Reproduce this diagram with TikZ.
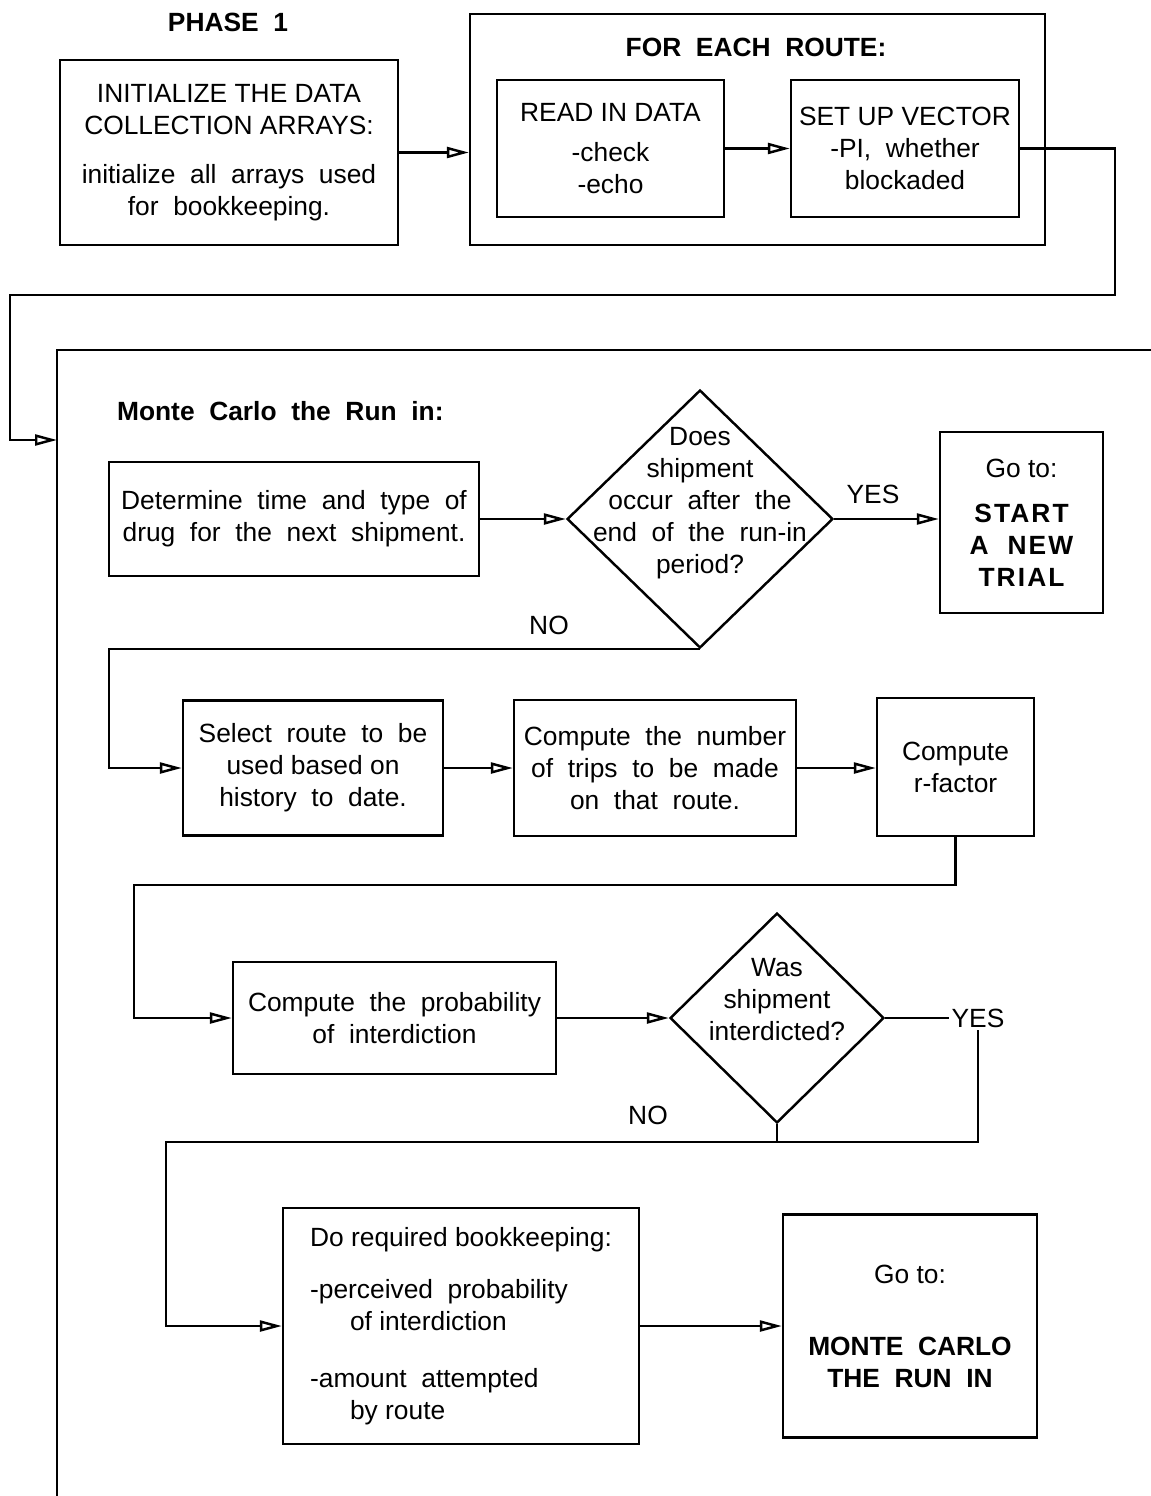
\documentclass[tikz,border=0pt]{standalone}
\usepackage{fontspec}
\setmainfont{Liberation Sans}
\usetikzlibrary{arrows.meta,shapes.geometric}

\begin{document}
\begin{tikzpicture}[x=0.02cm,y=-0.02cm,line width=1.4pt,
  >={Triangle[open,length=4.4mm,width=2.2mm]},
  every node/.style={font=\fontsize{15}{18.2}\selectfont},
  box/.style={draw,align=center,inner sep=0pt},
  dec/.style={draw,diamond,inner sep=0pt},
  hd/.style={font=\fontsize{15}{18.2}\selectfont\bfseries}]
  \useasboundingbox (0,0) rectangle (1151,1496);

  % phase 1
  \node[hd] (phase) at (228,22) {PHASE\ \ 1};
  \node[box,minimum width=6.76cm,minimum height=3.7cm] (init) at (229,152.5)
    {INITIALIZE THE DATA\\COLLECTION ARRAYS:\\[0.34cm]initialize\ \ all\ \ arrays\ \ used\\for\ \ bookkeeping.};

  \node[box,minimum width=11.5cm,minimum height=4.62cm] (route) at (757.5,129.5) {};
  \node[hd] (routetitle) at (756,47) {FOR\ \ EACH\ \ ROUTE:};
  \node[box,minimum width=4.54cm,minimum height=2.74cm] (readin) at (610.5,148.5)
    {READ IN DATA\\[0.16cm]-check\\-echo};
  \node[box,minimum width=4.56cm,minimum height=2.74cm] (setup) at (905,148.5)
    {SET UP VECTOR\\-PI,\ \ whether\\blockaded};

  \draw[->] (init.east) -- (init.east -| route.west);
  \draw[->] (readin) -- (setup);

  % link to the run in
  \coordinate (c1) at (1115,295);
  \coordinate (c2) at (10,295);
  \coordinate (entry) at (57,440);
  \draw[->] (setup.east) -| (c1) -- (c2) |- (entry);

  % frame of the run in
  \coordinate (frame) at (57,350);
  \draw (1151,350) -- (frame) -- (57,1496);
  \node[hd,anchor=west] (mctitle) at (110,411) {Monte\ \ Carlo\ \ the\ \ Run\ \ in:};

  \node[box,minimum width=7.4cm,minimum height=2.28cm] (determine) at (294,519)
    {Determine\ \ time\ \ and\ \ type\ \ of\\drug\ \ for\ \ the\ \ next\ \ shipment.};
  \node[dec,minimum width=5.32cm,minimum height=5.16cm] (dec1) at (700,519) {};
  \node[align=center] (dec1txt) at (700,503)
    {Does\\shipment\\occur\ \ after\ \ the\\end\ \ of\ \ the\ \ run-in\\period?};
  \node[box,minimum width=3.26cm,minimum height=3.62cm] (goto1) at (1021.5,522.5)
    {Go\ to:\\[0.26cm]\bfseries\addfontfeature{LetterSpace=8}START\\
     \bfseries\addfontfeature{LetterSpace=8}A\ \ NEW\\
     \bfseries\addfontfeature{LetterSpace=8}TRIAL};
  \node (yes1) at (873,494) {YES};
  \node (no1) at (549,625) {NO};

  \draw[->] (determine) -- (dec1);
  \draw[->] (dec1) -- (goto1.west |- dec1);

  \node[box,minimum width=5.2cm,minimum height=2.7cm] (select) at (313,768)
    {Select\ \ route\ \ to\ \ be\\used\ based\ on\\history\ \ to\ \ date.};
  \node[box,minimum width=5.64cm,minimum height=2.72cm] (number) at (655,768)
    {Compute\ \ the\ \ number\\of\ \ trips\ \ to\ \ be\ \ made\\on\ \ that\ \ route.};
  \node[box,minimum width=3.14cm,minimum height=2.76cm] (rfactor) at (955.5,767)
    {Compute\\r-factor};

  \coordinate (c3) at (109,648);
  \draw[->] (dec1.south) -- (dec1.south -| c3) |- (select.west);
  \draw[->] (select.east) -- (select.east -| number.west);
  \draw[->] (number.east) -- (number.east -| rfactor.west);

  \node[box,minimum width=6.46cm,minimum height=2.24cm] (prob) at (394.5,1018)
    {Compute\ \ the\ \ probability\\of\ \ interdiction};
  \node[dec,minimum width=4.28cm,minimum height=4.2cm] (dec2) at (777,1018) {};
  \node[align=center] (dec2txt) at (777,1000)
    {Was\\shipment\\interdicted?};
  \node[inner sep=1pt] (yes2) at (978,1018) {YES};
  \node (no2) at (648,1115) {NO};

  \coordinate (c4) at (134,885);
  \draw[->] (rfactor.south) |- (c4) |- (prob.west);
  \draw[->] (prob) -- (dec2);
  \draw (dec2.east) -- (dec2.east -| yes2.west);

  \node[box,align=left,minimum width=7.12cm,minimum height=4.72cm] (book) at (461,1326)
    {Do required bookkeeping:\\[0.4cm]-perceived\ \ probability\\\hspace{0.8cm}of interdiction\\[0.5cm]-amount\ \ attempted\\\hspace{0.8cm}by route};
  \node[box,minimum width=5.08cm,minimum height=4.46cm] (goto2) at (910,1326)
    {Go\ to:\\[0.8cm]\bfseries MONTE\ \ CARLO\\\bfseries THE\ \ RUN\ \ IN};

  \coordinate (c5) at (166,1142);
  \draw[->] (yes2.south) |- (c5) |- (book.west);
  \draw (dec2.south) -- (dec2.south |- c5);
  \draw[->] (book) -- (goto2);
\end{tikzpicture}
\end{document}
